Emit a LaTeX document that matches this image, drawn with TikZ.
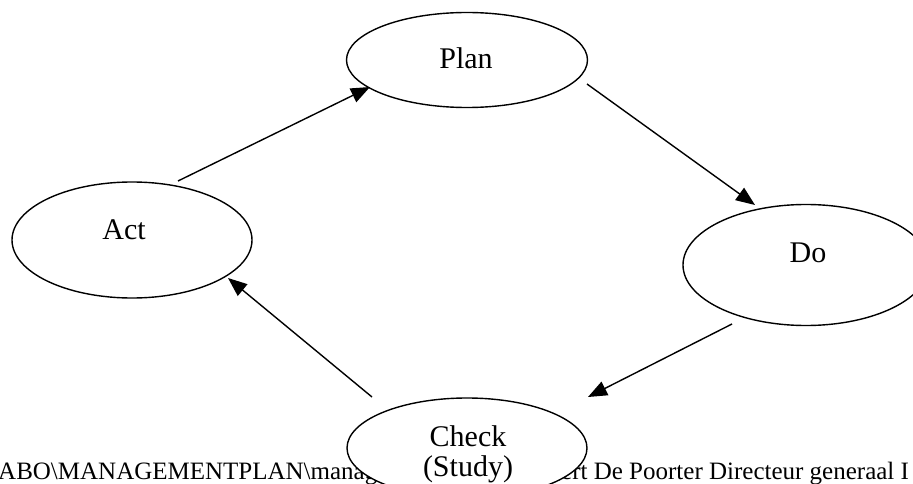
\documentclass[tikz,border=0pt]{standalone}
\usepackage{fontspec}
\setmainfont{Liberation Serif}
\usetikzlibrary{shapes.geometric,arrows.meta,calc}
\begin{document}
\begin{tikzpicture}[x=1pt,y=-1pt,
  oval/.style={draw=black,fill=white,ellipse,line width=1.4pt,inner sep=0pt},
  lbl/.style={font=\fontsize{30}{30}\selectfont,inner sep=0pt,anchor=base},
  foot/.style={font=\fontsize{25}{25}\selectfont,inner sep=0pt,anchor=base west},
  conn/.style={draw=black,line width=1.4pt,-{Triangle[length=19pt,width=15pt]}}]
\useasboundingbox (0,0) rectangle (913,484);
\clip (0,0) rectangle (913,484);
% footer text (partly hidden by the Check ellipse)
\node[foot] (footl) at (-2,479) {ABO\textbackslash MANAGEMENTPLAN\textbackslash manag};
\node[foot] (footr) at (561,479) {ert De Poorter Directeur generaal I};
% ellipses
\node[oval,minimum width=241pt,minimum height=95pt] (plan) at (467,60) {};
\node[oval,minimum width=240pt,minimum height=116pt] (act) at (132,240) {};
\node[oval,minimum width=246pt,minimum height=121pt] (do) at (806,265) {};
\node[oval,minimum width=240pt,minimum height=100pt] (check) at (467,448) {};
% labels
\node[lbl] (planl) at (466,69) {Plan};
\node[lbl] (actl) at (124,239) {Act};
\node[lbl] (dol) at (808,262) {Do};
\node[lbl] (checkl) at (468,446) {Check};
\node[lbl] (studyl) at (468,476) {(Study)};
% connectors
\draw[conn] ($(act.center)+(46,-59)$) -- ($(plan.center)+(-97,27)$);
\draw[conn] ($(plan.center)+(120,24)$) -- ($(do.center)+(-51,-60)$);
\draw[conn] ($(do.center)+(-74,59)$) -- ($(check.center)+(121,-51)$);
\draw[conn] ($(check.center)+(-95,-51)$) -- ($(act.center)+(96,38)$);
\end{tikzpicture}
\end{document}
